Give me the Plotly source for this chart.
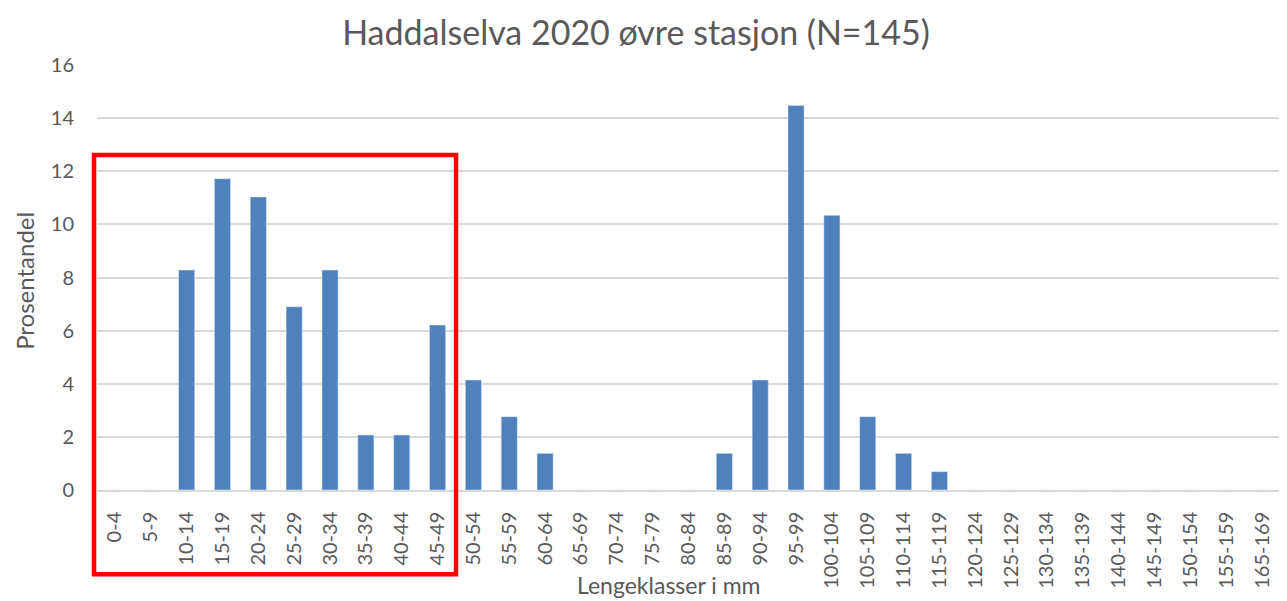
import plotly.graph_objects as go

# ── Data ──────────────────────────────────────────────────────────────────────
length_classes = [
    "0-4", "5-9", "10-14", "15-19", "20-24", "25-29", "30-34", "35-39",
    "40-44", "45-49", "50-54", "55-59", "60-64", "65-69", "70-74", "75-79",
    "80-84", "85-89", "90-94", "95-99", "100-104", "105-109", "110-114",
    "115-119", "120-124", "125-129", "130-134", "135-139", "140-144",
    "145-149", "150-154", "155-159", "165-169",
]
percent = [
    0, 0, 8.28, 11.72, 11.03, 6.90, 8.28, 2.07,
    2.07, 6.21, 4.14, 2.76, 1.38, 0, 0, 0,
    0, 1.38, 4.14, 14.48, 10.34, 2.76, 1.38,
    0.69, 0, 0, 0, 0, 0,
    0, 0, 0, 0,
]
y_ticks = [0, 2, 4, 6, 8, 10, 12, 14, 16]

TEXT = "#595959"
GRID = "#d9d9d9"

fig = go.Figure(
    go.Bar(
        x=length_classes,
        y=percent,
        marker_color="#4F81BD",
        hovertemplate="%{x} mm<br>%{y:.2f} %<extra></extra>",
    )
)

# the page adds an 8px body margin, so the figure is a bit smaller than the window
fig.update_layout(
    title=dict(text="Haddalselva 2020 øvre stasjon (N=145)", x=0.491, y=0.958,
               xanchor="center", yanchor="middle",
               font=dict(size=34, color=TEXT)),
    width=1279, height=593,
    margin=dict(l=89, r=7, t=57, b=111),
    bargap=0.55,
    plot_bgcolor="white",
    paper_bgcolor="white",
    font=dict(family="Lato", size=20, color=TEXT),
    showlegend=False,
)

fig.update_xaxes(
    type="category",
    tickangle=-90,
    tickfont=dict(size=20, color=TEXT),
    showline=True, linecolor=GRID, linewidth=1.5,
    ticks="", showgrid=False, automargin=False,
    ticklabelstandoff=12,
)
fig.update_yaxes(
    range=[0, 16], tickvals=y_ticks,
    showgrid=True, gridcolor=GRID, gridwidth=1.5,
    zeroline=False, ticks="", ticklabelstandoff=22, automargin=False,
    tickfont=dict(size=20, color=TEXT),
)

# axis titles as annotations (the x title sits beside the long tick labels)
fig.add_annotation(text="Lengeklasser i mm", xref="paper", yref="paper",
                   x=0.4838, y=-0.2235, xanchor="center", yanchor="middle",
                   showarrow=False, font=dict(size=23, color=TEXT))
fig.add_annotation(text="Prosentandel", xref="paper", yref="paper",
                   x=-0.0609, y=0.492, xanchor="center", yanchor="middle",
                   textangle=-90, showarrow=False, font=dict(size=24, color=TEXT))

# red highlight box around the smallest length classes
fig.add_shape(
    type="rect", xref="paper", yref="paper",
    x0=-0.0025, x1=0.3035, y0=-0.198, y1=0.788,
    line=dict(color="#ff0000", width=4.5),
    fillcolor="rgba(0,0,0,0)",
)

fig.write_html("out.html")
